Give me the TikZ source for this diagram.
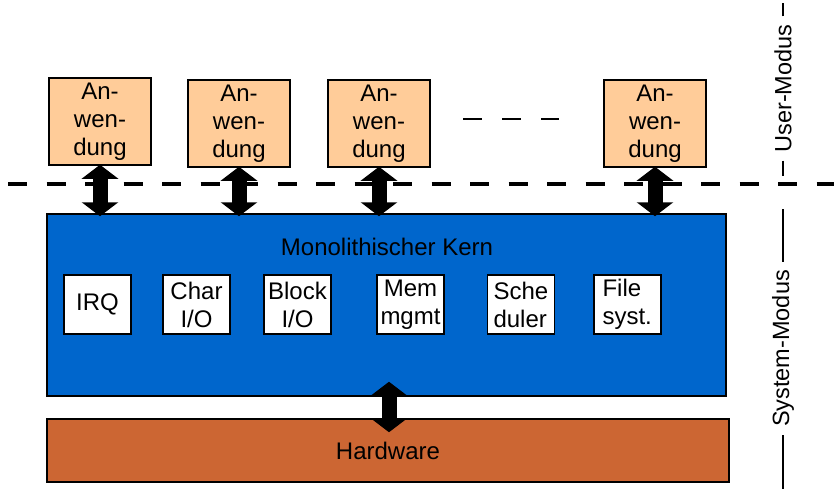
\documentclass[tikz,border=0pt]{standalone}
\usepackage{fontspec}
\setmainfont{Liberation Sans}
\newfontfamily\vfont{Liberation Sans}
\usetikzlibrary{arrows.meta,calc}
\definecolor{appc}{HTML}{FFCC99}
\definecolor{kernc}{HTML}{0066CC}
\definecolor{hwc}{HTML}{CC6633}
\begin{document}
\begin{tikzpicture}[x=1pt,y=-1pt,
  every node/.style={font=\fontsize{24}{28}\selectfont, inner sep=0pt},
  appbox/.style={draw=black, line width=1.5pt, fill=appc, minimum width=102pt, minimum height=87pt, align=center},
  modbox/.style={draw=black, line width=1.5pt, fill=white, minimum width=67pt, minimum height=59pt, align=center},
  bigbox/.style={draw=black, line width=1.5pt},
  bigarrow/.style={line width=15pt, {Triangle[length=14pt,width=36pt]}-{Triangle[length=14pt,width=36pt]}},
  sepline/.style={line width=1.5pt},
  vlabel/.style={rotate=90, font=\vfont\fontsize{23.5}{23.5}\selectfont, inner sep=8pt}]
\useasboundingbox (0,0) rectangle (834,489);

% separator
\coordinate (dl) at (8,184);
\coordinate (dr) at (834,184);
\draw[line width=4pt, dash pattern=on 19pt off 19.5pt] (dl) -- (dr);

% applications
\node[appbox] (a1) at (100,121.5) {An-\\wen-\\dung};
\node[appbox] (a2) at (239,123.5) {An-\\wen-\\dung};
\node[appbox] (a3) at (379,123.5) {An-\\wen-\\dung};
\node[appbox] (a4) at (655,123.5) {An-\\wen-\\dung};
\coordinate (dots1) at (463,119);
\coordinate (dots2) at (559,119);
\draw[line width=2pt, dash pattern=on 19pt off 20pt] (dots1) -- (dots2);

% kernel
\node[bigbox, fill=kernc, minimum width=679pt, minimum height=182pt] (kern) at (386.5,305) {};
\node[anchor=base] (ktitle) at (387,255) {Monolithischer Kern};
\node[modbox] (irq) at (97.5,304.5) {IRQ};
\node[modbox] (chr) at (196.5,304.5) {Char\\I/O};
\node[modbox] (blk) at (297.5,304.5) {Block\\I/O};
\node[modbox] (mem) at (410.5,304.5) {Mem\\mgmt};
\node[modbox, text width=55pt, align=left] (sch) at (521,304.5) {Sche\\duler};
\node[modbox, text width=50pt, align=left] (fs) at (627.5,304.5) {File\\syst.};

% hardware
\node[bigbox, fill=hwc, minimum width=682pt, minimum height=63pt] (hw) at (388,450.5) {Hardware};

% arrows
\foreach \a in {a1,a2,a3,a4}{
  \draw[bigarrow] ([yshift=1pt]\a.south) -- ([yshift=-3pt]\a.south |- kern.north);
}
\draw[bigarrow] ([xshift=2.5pt,yshift=15pt]kern.south) -- ([xshift=2.5pt,yshift=-14pt]kern.south |- hw.north);

% mode labels
\node[vlabel] (um) at (783,88.5) {User-Modus};
\coordinate (umtop) at (783,3);
\coordinate (umbot) at (783,176);
\draw[sepline] (um.east) -- (umtop);
\draw[sepline] (um.west) -- (umbot);
\node[vlabel] (sm) at (783,348.5) {System-Modus};
\coordinate (smtop) at (783,209);
\coordinate (smbot) at (783,489);
\draw[sepline] (sm.east) -- (smtop);
\draw[sepline] (sm.west) -- (smbot);
\end{tikzpicture}
\end{document}
